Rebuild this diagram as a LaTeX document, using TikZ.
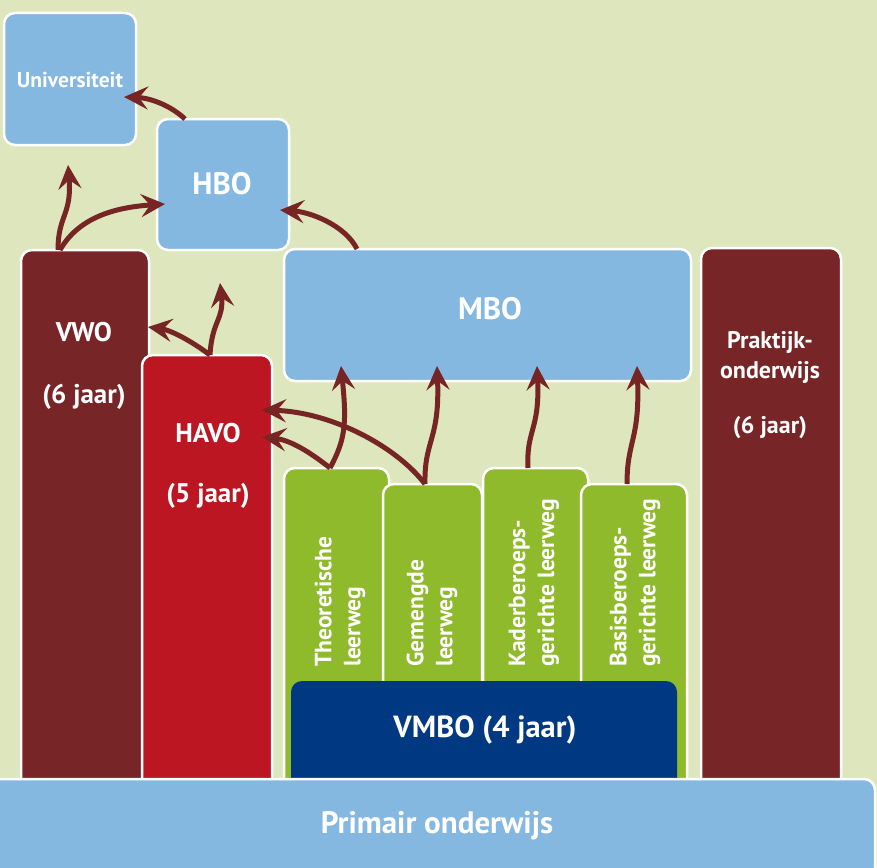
\documentclass[tikz,border=0pt]{standalone}
\usepackage{fontspec}
\setmainfont{PT Sans}
\usetikzlibrary{arrows.meta}
\definecolor{bg}{HTML}{DDE6BD}
\definecolor{lblue}{HTML}{85B8E0}
\definecolor{dred}{HTML}{772526}
\definecolor{hred}{HTML}{BB1622}
\definecolor{lgreen}{HTML}{8FBA2C}
\definecolor{dblue}{HTML}{003882}
\definecolor{arrc}{HTML}{772524}
\begin{document}
\begin{tikzpicture}[x=1pt,y=-1pt,
  box/.style={draw=white, line width=2.5pt, rounded corners=11pt, anchor=north west, inner sep=0pt, outer sep=0pt},
  lbl/.style={text=white, font=\bfseries\fontsize{27}{30}\selectfont, align=center, inner sep=0pt},
  vlbl/.style={text=white, font=\bfseries\fontsize{23.5}{29}\selectfont, align=left, rotate=90, anchor=west, inner sep=0pt},
  arr/.style={draw=arrc, line width=5pt, -{Stealth[length=24pt,width=23pt,inset=9pt]}}]
\useasboundingbox (0,0) rectangle (877,867);
\fill[bg] (0,0) rectangle (877,867);
% boxes
\node[box, fill=lblue, minimum width=132pt, minimum height=132pt] (uni) at (4,13) {};
\node[box, fill=lblue, minimum width=132pt, minimum height=131pt] (hbo) at (157,119) {};
\node[box, fill=dred, minimum width=128pt, minimum height=540pt] (vwo) at (21,250) {};
\node[box, fill=hred, minimum width=130pt, minimum height=435pt] (havo) at (142,355) {};
\node[box, fill=lblue, minimum width=407pt, minimum height=132pt] (mbo) at (284,249) {};
\node[box, fill=dred, minimum width=140pt, minimum height=542pt] (prak) at (701,248) {};
\node[fill=lgreen, anchor=north west, minimum width=405pt, minimum height=190pt, inner sep=0pt] (gback) at (283,600) {};
\node[box, fill=lgreen, minimum width=105pt, minimum height=322pt] (theo) at (284,468) {};
\node[box, fill=lgreen, minimum width=99pt, minimum height=306pt] (gem) at (383,484) {};
\node[box, fill=lgreen, minimum width=105pt, minimum height=322pt] (kader) at (483,468) {};
\node[box, fill=lgreen, minimum width=106pt, minimum height=306pt] (basis) at (581,484) {};
\node[box, draw=none, fill=dblue, minimum width=386pt, minimum height=120pt] (vmbo) at (291,681) {};
\node[box, fill=lblue, minimum width=885pt, minimum height=100pt] (prim) at (-10,779) {};
% labels
\node[lbl, font=\bfseries\fontsize{21.5}{24}\selectfont] (unit) at (70,80) {Universiteit};
\node[lbl, font=\bfseries\fontsize{31}{34}\selectfont] (hbot) at (222,184) {HBO};
\node[lbl] (vwot) at (84,332) {VWO};
\node[lbl] (vwoy) at (84,397) {(6 jaar)};
\node[lbl] (havot) at (208,433) {HAVO};
\node[lbl] (havoy) at (208,496) {(5 jaar)};
\node[lbl, font=\bfseries\fontsize{31}{34}\selectfont] (mbot) at (490,309) {MBO};
\node[lbl, font=\bfseries\fontsize{24}{30}\selectfont] (prakt) at (770,357) {Praktijk-\\onderwijs};
\node[lbl, font=\bfseries\fontsize{24}{30}\selectfont] (praky) at (770,428) {(6 jaar)};
\node[lbl, font=\bfseries\fontsize{30.5}{34}\selectfont] (vmbot) at (485,730) {VMBO (4 jaar)};
\node[lbl, font=\bfseries\fontsize{31}{34}\selectfont] (primt) at (437,826) {Primair onderwijs};
\node[vlbl] (theot) at (340,667) {Theoretische\\leerweg};
\node[vlbl] (gemt) at (432,667) {Gemengde\\leerweg};
\node[vlbl] (kadert) at (534,667) {Kaderberoeps-\\gerichte leerweg};
\node[vlbl] (basist) at (635,667) {Basisberoeps-\\gerichte leerweg};
% arrows
\draw[arr] ([xshift=28pt]hbo.north west) .. controls (170,105) and (150,98) .. ([xshift=-12pt,yshift=-84pt]uni.north east);
\draw[arr] ([xshift=37pt]vwo.north west) .. controls (58,215) and (72,215) .. ([xshift=64pt,yshift=-20pt]uni.south west);
\draw[arr] ([xshift=39pt]vwo.north west) .. controls (80,215) and (120,207) .. ([xshift=8pt,yshift=-85pt]hbo.north west);
\draw[arr] ([xshift=73pt]mbo.north west) .. controls (345,225) and (310,212) .. ([xshift=-9pt,yshift=-91pt]hbo.north east);
\draw[arr] ([xshift=68pt]havo.north west) .. controls (190,340) and (170,330) .. ([xshift=-1pt,yshift=-77pt]vwo.north east);
\draw[arr] ([xshift=68pt]havo.north west) .. controls (212,320) and (224,320) .. ([xshift=-52pt,yshift=72pt]havo.north east);
\draw[arr] ([xshift=46pt]theo.north west) .. controls (310,452) and (290,440) .. ([xshift=-10pt,yshift=-82pt]havo.north east);
\draw[arr] ([xshift=46pt]theo.north west) .. controls (345,440) and (347,425) .. ([xshift=57pt,yshift=15pt]mbo.south west);
\draw[arr] ([xshift=42pt]gem.north west) .. controls (395,445) and (330,412) .. ([xshift=-10pt,yshift=-55pt]havo.north east);
\draw[arr] ([xshift=42pt]gem.north west) .. controls (424,440) and (440,440) .. ([xshift=153pt,yshift=15pt]mbo.south west);
\draw[arr] ([xshift=45pt]kader.north west) .. controls (526,430) and (540,430) .. ([xshift=253pt,yshift=15pt]mbo.south west);
\draw[arr] ([xshift=46pt]basis.north west) .. controls (627,440) and (640,440) .. ([xshift=353pt,yshift=15pt]mbo.south west);
\end{tikzpicture}
\end{document}
